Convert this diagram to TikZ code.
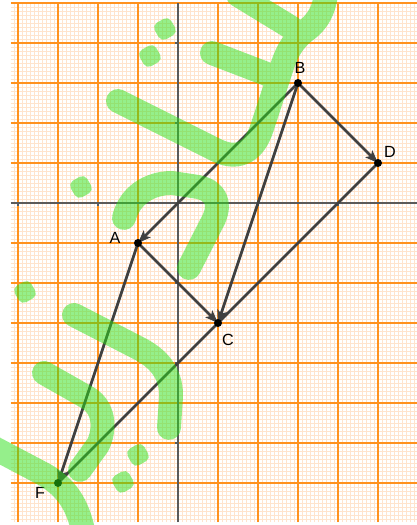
\documentclass[tikz,border=0pt]{standalone}
\usepackage{fontspec}
\setmainfont{Liberation Sans}
\usetikzlibrary{arrows.meta}
\definecolor{vec}{RGB}{64,64,64}
\definecolor{gmaj}{RGB}{255,145,30}
\definecolor{gmin}{RGB}{255,228,205}
\definecolor{axc}{RGB}{90,90,90}
\definecolor{wmg}{RGB}{45,225,25}
\begin{document}
\begin{tikzpicture}[x=1cm,y=1cm,
  axis/.style={axc, line width=0.85pt},
  vecline/.style={vec, line width=2pt},
  vecarrow/.style={vecline, -{Stealth[length=0.32cm,width=0.24cm,inset=0.07cm]}},
  ptdot/.style={circle, fill=black, inner sep=0pt, minimum size=0.2cm},
  lbl/.style={font=\fontsize{11.5}{13}\selectfont, text=black, inner sep=0pt},
  wm/.style={draw=wmg, line width=17pt, line cap=round, line join=round},
  wmdot/.style={fill=wmg, minimum size=13.5pt, rounded corners=4pt, inner sep=0pt}]
\useasboundingbox (-4.45,-8.05) rectangle (5.975,5.075);
\fill[white] (-4.45,-8.05) rectangle (5.975,5.075);
% grid
\draw[gmin, line width=0.3pt, step=0.1] (-4.175,-7.975) grid (5.975,5.0);
\draw[gmaj, line width=1.1pt, step=1] (-4.175,-7.975) grid (5.975,5.0);
% axes
\draw[axis] (-4.175,0) -- (5.975,0);
\draw[axis] (0,-7.975) -- (0,5.0);
\foreach \t in {-4,-2,2,4} \draw[axis] (\t,0) -- (\t,-0.07);
\foreach \t in {-6,-4,-2,2,4} \draw[axis] (0,\t) -- (-0.07,\t);
% points
\coordinate (B) at (3,3);
\coordinate (D) at (5,1);
\coordinate (A) at (-1,-1);
\coordinate (C) at (1,-3);
\coordinate (F) at (-3,-7);
% vectors
\draw[vecline] (D) -- (F);
\draw[vecarrow] (B) -- (A);
\draw[vecarrow] (B) -- (C);
\draw[vecarrow] (B) -- (D);
\draw[vecarrow] (A) -- (C);
\draw[vecarrow] (A) -- (F);
% dots
\node[ptdot] (dB) at (B) {};
\node[ptdot] (dD) at (D) {};
\node[ptdot] (dA) at (A) {};
\node[ptdot] (dC) at (C) {};
\node[ptdot] (dF) at (F) {};
% labels
\node[lbl] (lA) at (-1.575,-0.875) {A};
\node[lbl] (lB) at (3.05,3.375) {B};
\node[lbl] (lC) at (1.25,-3.425) {C};
\node[lbl] (lD) at (5.3,1.275) {D};
\node[lbl] (lF) at (-3.45,-7.25) {F};
% watermark
\begin{scope}[shift={(-4.45,5.075)}, x=0.025cm, y=-0.025cm, transparency group, opacity=0.5]
\draw[wm] (118,101) -- (218,151) .. controls (240,161) and (255,150) .. (262,128) -- (283,64) .. controls (289,46) and (298,36) .. (308,29) .. controls (318,21) and (324,10) .. (326,-5);
\draw[wm] (238,-5) -- (292,28);
\draw[wm] (212,53) -- (272,76);
\draw[wm] (124,218) .. controls (130,195) and (150,183) .. (172,183) -- (198,187) .. controls (216,191) and (221,203) .. (214,219) -- (189,268);
\draw[wm] (74,315) -- (140,349) .. controls (163,361) and (172,378) .. (171,398) -- (169,428);
\draw[wm] (44,373) -- (88,398) .. controls (104,408) and (106,428) .. (98,445) -- (80,470);
\draw[wm] (-8,447) -- (45,475) .. controls (65,487) and (78,503) .. (84,535);
\node[wmdot, rotate=30] (wd1) at (165,29) {};
\node[wmdot, rotate=30] (wd2) at (150,56) {};
\node[wmdot, rotate=30] (wd3) at (81,187) {};
\node[wmdot, rotate=30] (wd4) at (25,292) {};
\node[wmdot, rotate=30] (wd5) at (138,455) {};
\node[wmdot, rotate=30] (wd6) at (123,482) {};
\end{scope}
\end{tikzpicture}
\end{document}
